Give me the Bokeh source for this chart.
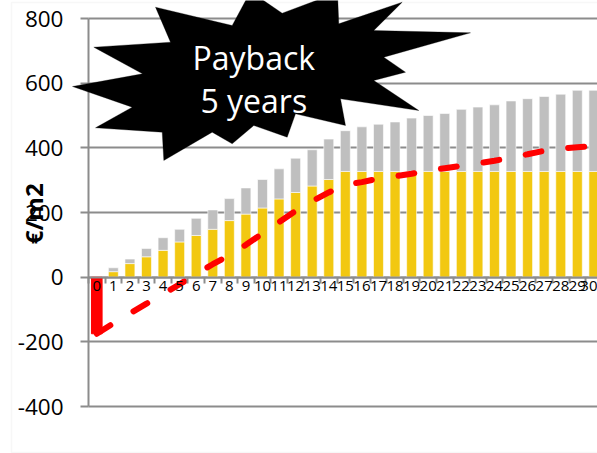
import math
from bokeh.plotting import figure
from bokeh.models import (Range1d, LinearAxis, FixedTicker, ColumnDataSource,
                          Label, PolyAnnotation)
from bokeh.embed import file_html
from bokeh.resources import INLINE

# ---------------- data ----------------
years = list(range(31))
year_labels = [str(y) for y in years]
y_ticks = [-400, -200, 0, 200, 400, 600, 800]
y_tick_labels = ["-400", "-200", "0", "200", "400", "600", "800"]

investment_year = [0]
investment = [-175]

savings_yellow = [0, 17, 42, 63, 83, 109, 129, 148, 175, 195, 214, 242, 262, 282,
                  302, 327, 327, 327, 327, 327, 327, 327, 327, 327, 327, 327, 327,
                  327, 327, 327, 327]
savings_grey = [0, 12, 14, 26, 39, 39, 53, 60, 68, 81, 88, 93, 106, 112, 125, 126,
                138, 146, 153, 165, 173, 179, 192, 199, 206, 218, 225, 232, 239,
                251, 251]
cumulative = [-175, -143, -112, -82, -52, -22, 10, 40, 68, 100, 135, 170, 205, 235,
              262, 286, 294, 305, 312, 320, 329, 337, 344, 352, 360, 370, 380, 391,
              398, 402, 405]

callout_lines = ["Payback", "5 years"]
y_title = "€/m2"

# ---------------- layout (whole canvas is the frame) ----------------
W, H = 597, 453
AXIS_PX_X = 88            # pixel column of the value axis
TOP_PX, BOTTOM_PX = 18, 406  # pixel rows of 800 and -400
PX_PER_X = 16.57
PX_PER_Y = (BOTTOM_PX - TOP_PX) / (y_ticks[-1] - y_ticks[0])
X_START = -0.5 - AXIS_PX_X / PX_PER_X
X_END = X_START + W / PX_PER_X
Y_END = y_ticks[-1] + TOP_PX / PX_PER_Y
Y_START = Y_END - H / PX_PER_Y

def dx(px):  # canvas pixel -> data x
    return X_START + px / PX_PER_X

def dy(py):  # canvas pixel -> data y
    return Y_END - py / PX_PER_Y

GRID = "#8c8c8c"
FONT = "Open Sans"

p = figure(width=W, height=H, x_range=Range1d(X_START, X_END),
           y_range=Range1d(Y_START, Y_END), output_backend="svg",
           toolbar_location=None, x_axis_location=None, y_axis_location=None,
           min_border=0)
p.outline_line_color = None
p.background_fill_color = "white"
p.border_fill_color = "white"
p.xgrid.visible = False

# light chart-area border
border_px = [(11, 2), (640, 2), (640, 452), (11, 452)]
p.add_layout(PolyAnnotation(xs=[dx(a) for a, b in border_px],
                            ys=[dy(b) for a, b in border_px],
                            fill_color=None, line_color="#e4e4e4", line_width=1.5,
                            level="underlay"))

# y axis (value axis) fixed at the left edge of the first category
yax = LinearAxis(ticker=FixedTicker(ticks=y_ticks))
yax.fixed_location = -0.5
yax.bounds = (y_ticks[0], y_ticks[-1])
yax.axis_line_color = GRID
yax.axis_line_width = 2
yax.major_tick_line_color = GRID
yax.major_tick_line_width = 2
yax.major_tick_out = 8
yax.major_tick_in = 0
yax.minor_tick_line_color = None
yax.major_label_standoff = 17
yax.major_label_overrides = {t: lab for t, lab in zip(y_ticks, y_tick_labels)}
yax.major_label_text_font = FONT
yax.major_label_text_font_size = "22.5px"
yax.major_label_text_color = "black"
p.add_layout(yax, "left")

p.ygrid.ticker = FixedTicker(ticks=y_ticks)
p.ygrid.grid_line_color = GRID
p.ygrid.grid_line_width = 2
p.ygrid.cross_bounds = (-0.5, X_END + 1)

# bars
src = ColumnDataSource(dict(year=years, yellow=savings_yellow, grey=savings_grey,
                            cum=cumulative))
p.vbar_stack(["yellow", "grey"], x="year", width=0.6, source=src,
             fill_color=["#F2C811", "#BFBFBF"], line_color="white", line_width=0.6)
p.vbar(x=investment_year, top=[0], bottom=investment, width=0.64,
       fill_color="#FF0000", line_color="#FF0000")

# cumulative dashed line
p.line(x="year", y="cum", source=src, line_color="#FF0000", line_width=6,
       line_dash="16 27", line_cap="round")

# category axis at y = 0: boundary ticks + centred labels
xax_ticks = LinearAxis(ticker=FixedTicker(ticks=[y - 0.5 for y in years] + [30.5]))
xax_ticks.fixed_location = 0
xax_ticks.bounds = (-0.5, X_END + 1)
xax_ticks.axis_line_color = GRID
xax_ticks.axis_line_width = 2
xax_ticks.major_tick_line_color = GRID
xax_ticks.major_tick_line_width = 2
xax_ticks.major_tick_out = 6
xax_ticks.major_tick_in = 0
xax_ticks.minor_tick_line_color = None
xax_ticks.major_label_text_color = None
xax_ticks.major_label_text_font_size = "1px"
p.add_layout(xax_ticks, "below")

xax_lab = LinearAxis(ticker=FixedTicker(ticks=years))
xax_lab.fixed_location = 0
xax_lab.axis_line_color = None
xax_lab.major_tick_line_color = None
xax_lab.minor_tick_line_color = None
xax_lab.major_tick_out = 0
xax_lab.major_tick_in = 0
xax_lab.major_label_standoff = 4
xax_lab.major_label_overrides = {y: lab for y, lab in zip(years, year_labels)}
xax_lab.major_label_text_font = FONT
xax_lab.major_label_text_font_size = "15px"
xax_lab.major_label_text_color = "black"
p.add_layout(xax_lab, "below")

# y axis title
p.add_layout(Label(x=dx(33.3), y=dy(213.3), text=y_title, angle=math.pi / 2,
                   text_font=FONT, text_font_style="bold", text_font_size="24px",
                   text_align="center", text_baseline="middle", text_color="black"))

# starburst callout
star_px = [(155, 6.7), (231.7, 25), (250, -9), (281.7, 12.7), (337, -8),
           (338.3, 23.3), (401.7, 1.7), (373.3, 30), (470, 32.3), (383.3, 56.7),
           (405, 71.7), (373.3, 80), (418.3, 110), (340, 98.3), (345, 125),
           (295, 113.3), (286.7, 136.7), (253.3, 125), (231.7, 143.3),
           (211.7, 131.7), (163.3, 160), (161.7, 131.7), (95, 127.3),
           (131.7, 106.7), (72, 86), (142, 73.3), (93.3, 46.7), (170, 41.7)]
p.add_layout(PolyAnnotation(xs=[dx(a) for a, b in star_px],
                            ys=[dy(b) for a, b in star_px],
                            fill_color="black", fill_alpha=1.0,
                            line_color="black", line_width=1))
for txt, base in zip(callout_lines, [56.7, 100.0]):
    p.add_layout(Label(x=dx(253.3), y=dy(base), text=txt, text_color="white",
                       text_font=FONT, text_font_size="32px", text_align="center",
                       text_baseline="alphabetic"))

open("out.html", "w").write(file_html(p, INLINE))
